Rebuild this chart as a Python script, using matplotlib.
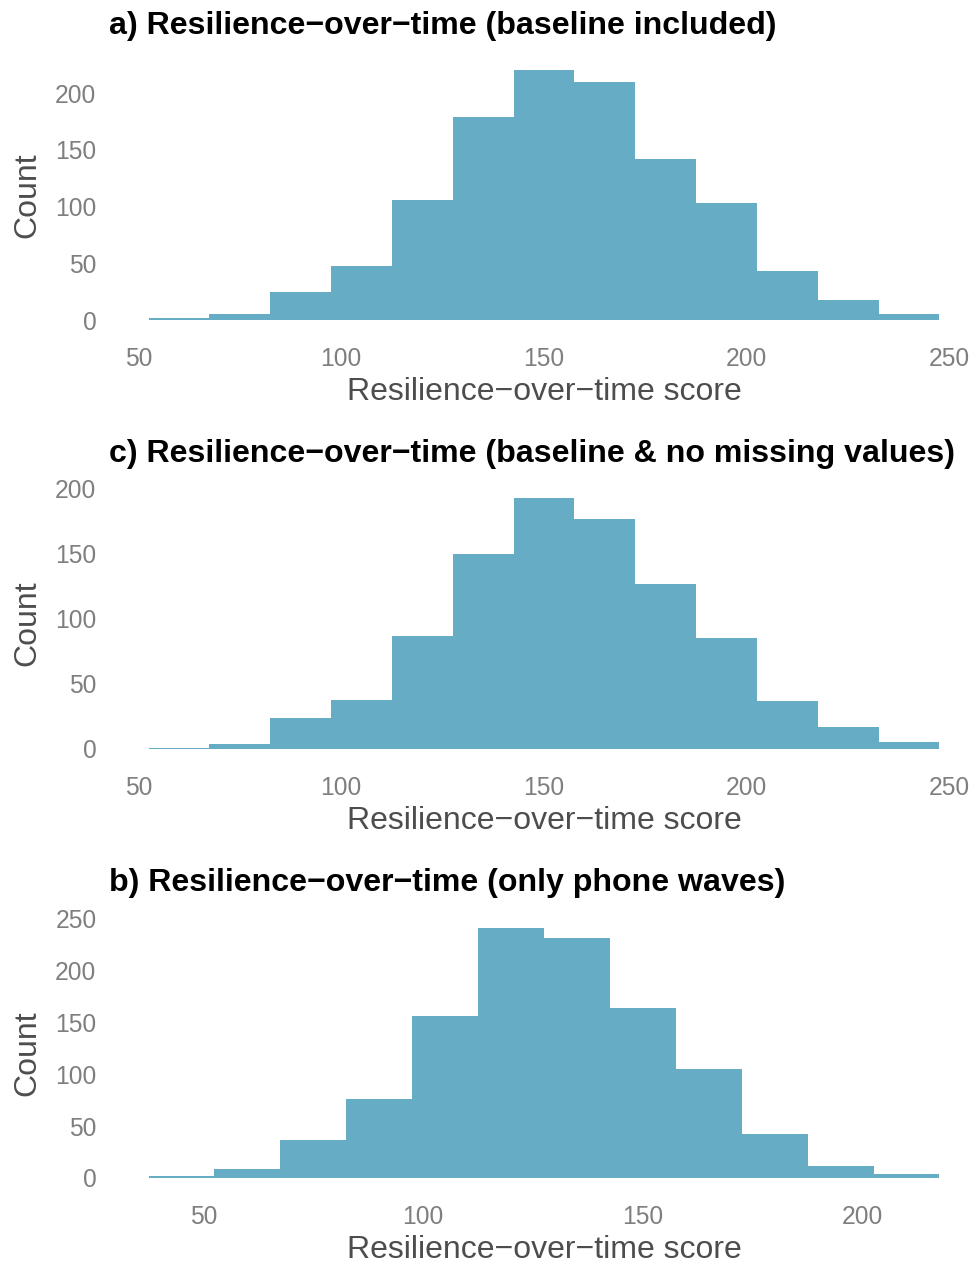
import numpy as np
import matplotlib
matplotlib.use("Agg")
import matplotlib.pyplot as plt

plt.rcParams["font.family"] = ["Liberation Sans", "DejaVu Sans"]

# histogram counts, binwidth 15
binwidth = 15
centers_a = [60, 75, 90, 105, 120, 135, 150, 165, 180, 195, 210, 225, 240]
counts_a = [2, 5, 25, 48, 106, 179, 220, 210, 142, 103, 43, 18, 5]

centers_c = [60, 75, 90, 105, 120, 135, 150, 165, 180, 195, 210, 225, 240]
counts_c = [1, 4, 24, 38, 87, 150, 193, 177, 127, 85, 37, 17, 5]

centers_b = [45, 60, 75, 90, 105, 120, 135, 150, 165, 180, 195, 210]
counts_b = [2, 9, 37, 76, 156, 241, 231, 164, 105, 42, 12, 4]

titles = [
    "a) Resilience\u2212over\u2212time (baseline included)",
    "c) Resilience\u2212over\u2212time (baseline & no missing values)",
    "b) Resilience\u2212over\u2212time (only phone waves)",
]
xticks = [[50, 100, 150, 200, 250], [50, 100, 150, 200, 250], [50, 100, 150, 200]]
yticks = [[0, 50, 100, 150, 200], [0, 50, 100, 150, 200], [0, 50, 100, 150, 200, 250]]

fill = "#65ACC4"
W, H = 979, 1266
fig = plt.figure(figsize=(W / 100, H / 100), dpi=100)

# panel boxes in pixels: (left, right, top, bottom)
boxes = [(109, 979, 58, 332.5), (109, 979, 485.5, 761.5), (109, 979, 915, 1190.5)]

panels = [(centers_a, counts_a), (centers_c, counts_c), (centers_b, counts_b)]
for i, ((centers, counts), box) in enumerate(zip(panels, boxes)):
    l, r, t, b = box
    ax = fig.add_axes([l / W, 1 - b / H, (r - l) / W, (b - t) / H])
    centers = np.array(centers, dtype=float)
    counts = np.array(counts, dtype=float)
    edges = np.append(centers - binwidth / 2, centers[-1] + binwidth / 2)
    ax.stairs(counts, edges, fill=True, color=fill, lw=0)

    xr = edges[-1] - edges[0]
    ax.set_xlim(edges[0] - 0.05 * xr, edges[-1] + 0.05 * xr)
    ax.set_ylim(-0.05 * counts.max(), 1.05 * counts.max())
    ax.set_xticks(xticks[i])
    ax.set_yticks(yticks[i])
    ax.tick_params(length=0, labelsize=17.7, labelcolor="#7f7f7f")
    ax.tick_params(axis="x", pad=10.5)
    ax.tick_params(axis="y", pad=9)
    for s in ax.spines.values():
        s.set_visible(False)
    ax.set_xlabel("Resilience\u2212over\u2212time score", fontsize=23, color="#4d4d4d", labelpad=4)
    ax.set_ylabel("Count", fontsize=23, color="#4d4d4d", labelpad=9)
    ax.set_title(titles[i], loc="left", fontsize=23.1, fontweight="bold", pad=17)

fig.savefig("out.png", dpi=100, facecolor="white")
